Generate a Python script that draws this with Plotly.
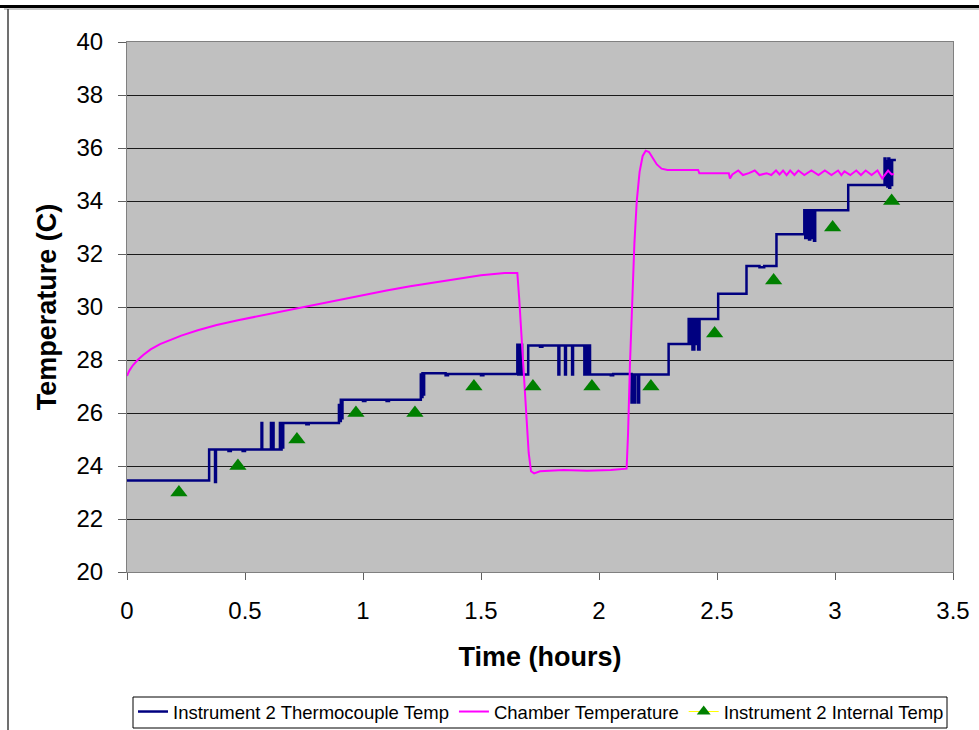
import plotly.graph_objects as go

# Instrument 2 thermocouple (step data, hours / degC)
tc_time = [0.000, 0.348, 0.373, 0.377, 0.430, 0.440, 0.490, 0.500,
           0.570, 0.573, 0.610, 0.613, 0.618, 0.621, 0.648, 0.651, 0.655, 0.658, 0.662,
           0.760, 0.770,
           0.898, 0.902, 0.906, 0.909, 0.913,
           1.000, 1.010, 1.100, 1.110,
           1.245, 1.248, 1.252, 1.256, 1.259,
           1.350, 1.360, 1.500, 1.510,
           1.654, 1.658, 1.662, 1.666, 1.670, 1.674,
           1.700, 1.750, 1.760,
           1.828, 1.832, 1.856, 1.860, 1.886, 1.890,
           1.938, 1.942, 1.946, 1.950, 1.954, 1.958, 1.962,
           2.050, 2.060,
           2.138, 2.142, 2.150, 2.154, 2.166, 2.170,
           2.295,
           2.380, 2.384, 2.392, 2.396, 2.404, 2.408, 2.414, 2.420, 2.426,
           2.505, 2.625, 2.680, 2.700, 2.752,
           2.870, 2.874, 2.878, 2.882, 2.886, 2.890, 2.895, 2.900, 2.906, 2.911, 2.916,
           3.056,
           3.210, 3.214, 3.218, 3.222, 3.226, 3.230, 3.234, 3.238, 3.242, 3.258]
tc_temp = [23.45, 24.62, 23.40, 24.62, 24.57, 24.62, 24.57, 24.62,
           25.62, 24.62, 25.62, 24.62, 25.62, 24.62, 25.62, 24.62, 25.62, 24.70, 25.62,
           25.58, 25.62,
           26.30, 25.70, 26.50, 25.80, 26.50,
           26.45, 26.50, 26.45, 26.50,
           27.45, 26.60, 27.50, 26.70, 27.50,
           27.42, 27.47, 27.42, 27.47,
           28.58, 27.45, 28.58, 27.45, 28.58, 27.45,
           28.55, 28.50, 28.55,
           27.45, 28.55, 27.45, 28.55, 27.45, 28.55,
           27.45, 28.55, 27.45, 28.55, 27.45, 28.55, 27.45,
           27.42, 27.47,
           26.40, 27.45, 26.40, 27.45, 26.40, 27.45,
           28.60,
           29.55, 28.60, 29.55, 28.40, 29.55, 28.60, 29.55, 28.40, 29.55,
           30.50, 31.55, 31.50, 31.55, 32.75,
           33.65, 32.60, 33.65, 32.60, 33.65, 32.55, 33.65, 32.60, 33.65, 32.50, 33.65,
           34.60,
           35.60, 34.60, 35.50, 34.55, 35.60, 34.50, 35.55, 34.60, 35.55, 35.55]

# Chamber temperature
ch_time = [0.000, 0.010, 0.025, 0.045, 0.070, 0.100, 0.140, 0.180, 0.230, 0.300,
           0.380, 0.470, 0.570, 0.670, 0.780, 0.900, 1.000, 1.100, 1.200, 1.300,
           1.400, 1.500, 1.600, 1.654, 1.662, 1.672, 1.682, 1.692, 1.702, 1.712,
           1.725, 1.750, 1.850, 1.950, 2.050, 2.117, 2.123, 2.131, 2.140, 2.150,
           2.160, 2.172, 2.185, 2.198, 2.212, 2.228, 2.245, 2.265, 2.290, 2.420,
           2.425, 2.550, 2.555, 2.565, 2.590, 2.610, 2.635, 2.660, 2.680, 2.710,
           2.730, 2.750, 2.765, 2.780, 2.795, 2.810, 2.828, 2.845, 2.870, 2.900,
           2.930, 2.957, 2.985, 3.013, 3.027, 3.040, 3.065, 3.090, 3.110, 3.130,
           3.155, 3.180, 3.200, 3.225, 3.240, 3.250]
ch_temp = [27.40, 27.60, 27.80, 28.00, 28.20, 28.40, 28.60, 28.75, 28.92, 29.12,
           29.32, 29.50, 29.68, 29.87, 30.07, 30.27, 30.45, 30.62, 30.78, 30.92,
           31.07, 31.20, 31.28, 31.28, 30.30, 28.80, 27.20, 25.70, 24.50, 23.80,
           23.72, 23.80, 23.85, 23.82, 23.85, 23.90, 25.20, 27.80, 30.30, 32.40,
           34.00, 35.10, 35.70, 35.90, 35.85, 35.60, 35.38, 35.22, 35.17, 35.17,
           35.05, 35.05, 34.85, 35.00, 35.15, 34.98, 35.05, 35.15, 34.98, 35.05,
           34.98, 35.15, 35.00, 35.15, 34.98, 35.15, 34.98, 35.15, 34.98, 35.15,
           34.98, 35.15, 34.98, 35.15, 34.98, 35.12, 34.98, 35.15, 34.98, 35.15,
           34.98, 35.15, 34.85, 35.15, 35.00, 35.02]

# Instrument 2 internal temperature
int_time = [0.22, 0.47, 0.72, 0.97, 1.22, 1.47, 1.72, 1.97, 2.22, 2.49, 2.74, 2.99, 3.24]
int_temp = [23, 24, 25, 26, 26, 27, 27, 27, 27, 29, 31, 33, 34]

x_ticks = [0, 0.5, 1, 1.5, 2, 2.5, 3, 3.5]
x_tick_text = ["0", "0.5", "1", "1.5", "2", "2.5", "3", "3.5"]
y_ticks = [20, 22, 24, 26, 28, 30, 32, 34, 36, 38, 40]

fig = go.Figure()
fig.add_trace(go.Scatter(x=tc_time, y=tc_temp, mode="lines", line_shape="hv",
                         line=dict(color="#000080", width=2.5),
                         name="Instrument 2 Thermocouple Temp"))
fig.add_trace(go.Scatter(x=ch_time, y=ch_temp, mode="lines",
                         line=dict(color="#FF00FF", width=2),
                         name="Chamber Temperature"))
fig.add_trace(go.Scatter(x=int_time, y=int_temp, mode="markers",
                         marker=dict(symbol="triangle-up", color="#008000", size=15),
                         name="Instrument 2 Internal Temp", showlegend=False))
fig.add_trace(go.Scatter(x=[None], y=[None], mode="lines+markers",
                         line=dict(color="#FFFF00", width=1),
                         marker=dict(symbol="triangle-up", color="#008000", size=12),
                         name="Instrument 2 Internal Temp"))

axis_font = dict(family="Liberation Sans, Arial", size=24, color="#000000")
title_font = dict(family="Liberation Sans, Arial", size=27, color="#000000")

fig.update_layout(
    width=979, height=730,
    margin=dict(l=127, r=26, t=42, b=158, autoexpand=False),
    paper_bgcolor="#FFFFFF",
    plot_bgcolor="#C0C0C0",
    showlegend=True,
    legend=dict(orientation="h", xref="container", yref="container",
                x=133 / 979, y=1 - 712 / 730, xanchor="left", yanchor="middle",
                bgcolor="rgba(0,0,0,0)", borderwidth=0,
                font=dict(family="Liberation Sans, Arial", size=18.5, color="#000000"),
                itemwidth=30),
    xaxis=dict(range=[0, 3.5], tickvals=x_ticks, ticktext=x_tick_text,
               showgrid=False, zeroline=False, automargin=False,
               showline=True, linecolor="#808080", linewidth=1, mirror=True,
               ticks="outside", ticklen=7, tickcolor="#606060",
               tickfont=axis_font, ticklabelstandoff=10,
               title=dict(text="<b>Time (hours)</b>", font=title_font, standoff=24)),
    yaxis=dict(range=[20, 40], tickvals=y_ticks, automargin=False,
               showgrid=True, gridcolor="#1a1a1a", gridwidth=1, zeroline=False,
               showline=True, linecolor="#808080", linewidth=1, mirror=True,
               ticks="outside", ticklen=8, tickcolor="#606060",
               tickfont=axis_font, ticklabelstandoff=10,
               title=dict(text="<b>Temperature (C)</b>", font=title_font, standoff=12)),
    shapes=[
        dict(type="line", xref="paper", yref="paper",
             x0=(0 - 127) / 826, x1=(979 - 127) / 826,
             y0=(572 - 6.5) / 530, y1=(572 - 6.5) / 530,
             line=dict(color="#000000", width=3)),
        dict(type="line", xref="paper", yref="paper",
             x0=(4 - 127) / 826, x1=(979 - 127) / 826,
             y0=(572 - 9) / 530, y1=(572 - 9) / 530,
             line=dict(color="#909090", width=1)),
        dict(type="line", xref="paper", yref="paper",
             x0=(8 - 127) / 826, x1=(8 - 127) / 826,
             y0=(572 - 9) / 530, y1=(572 - 730) / 530,
             line=dict(color="#404040", width=1.5)),
        dict(type="rect", xref="paper", yref="paper",
             x0=(133 - 127) / 826, x1=(947 - 127) / 826,
             y0=(572 - 697) / 530, y1=(572 - 728) / 530,
             fillcolor="#FFFFFF", line=dict(color="#000000", width=1)),
    ],
)

fig.write_html("out.html")
